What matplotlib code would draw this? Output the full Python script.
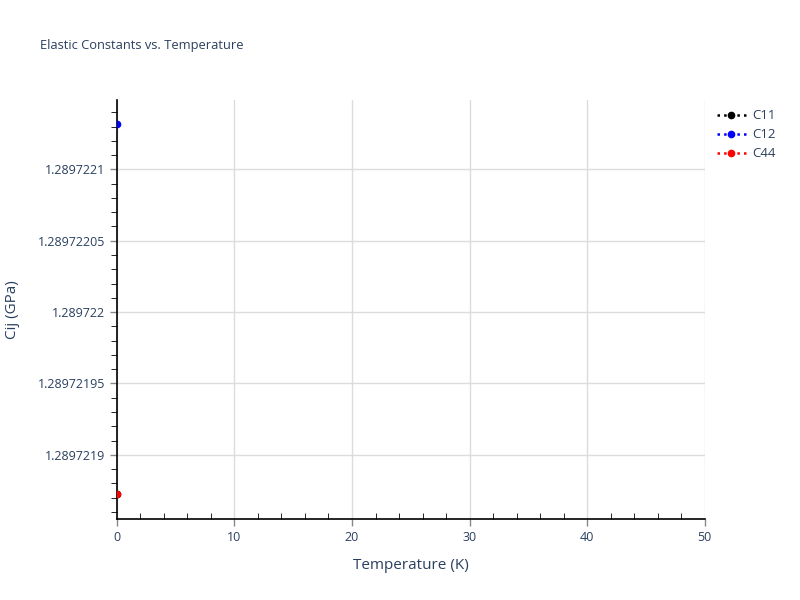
import numpy as np
from matplotlib import pyplot as plt
from matplotlib.ticker import MultipleLocator, FuncFormatter

# data
temperature = [0.0]
c11 = [1.2897218728]
c12 = [1.2897221315]
c44 = [1.2897218728]

series_names = ['C11', 'C12', 'C44']
series_colors = ['black', 'blue', 'red']

text_color = '#2a3f5f'
plt.rcParams['font.family'] = ['Open Sans', 'DejaVu Sans']

fig = plt.figure(figsize=(8, 6), dpi=100)
ax = fig.add_axes([0.146, 0.135, 0.735, 0.698])

for name, values, color in zip(series_names, [c11, c12, c44], series_colors):
    ax.plot(temperature, values, linestyle=':', linewidth=1.8, color=color,
            marker='o', markersize=4.5, label=name, zorder=3)

ax.set_xlim(0, 50)
ax.set_ylim(1.289721855, 1.2897221485)

ax.xaxis.set_major_locator(MultipleLocator(10))
ax.xaxis.set_minor_locator(MultipleLocator(2))
ax.yaxis.set_major_locator(MultipleLocator(5e-8))
ax.yaxis.set_minor_locator(MultipleLocator(1e-8))
ax.yaxis.set_major_formatter(FuncFormatter(lambda v, p: f'{v:.9f}'.rstrip('0').rstrip('.')))

ax.grid(True, which='major', color='#dcdcdc', linewidth=1)
ax.set_axisbelow(True)

for side in ['top', 'right']:
    ax.spines[side].set_visible(False)
for side in ['left', 'bottom']:
    ax.spines[side].set_color('black')
    ax.spines[side].set_linewidth(1.2)

ax.tick_params(axis='both', which='major', colors='#888888', labelcolor=text_color,
               labelsize=9, length=5, width=1)
ax.tick_params(axis='x', which='minor', direction='in', length=4, color='black')
ax.tick_params(axis='y', which='minor', direction='out', length=4, color='black')

ax.set_xlabel('Temperature (K)', fontsize=11, color=text_color, labelpad=10)
ax.set_ylabel('Cij (GPa)', fontsize=11, color=text_color, labelpad=13)

fig.text(0.05, 0.925, 'Elastic Constants vs. Temperature', fontsize=9.3,
         color=text_color, ha='left', va='center')

ax.legend(loc='upper left', bbox_to_anchor=(1.005, 1.0), frameon=False,
          fontsize=9.5, labelcolor=text_color, handlelength=2.2,
          handletextpad=0.5, labelspacing=0.45, borderaxespad=0.3)

plt.savefig('out.png', dpi=100)
